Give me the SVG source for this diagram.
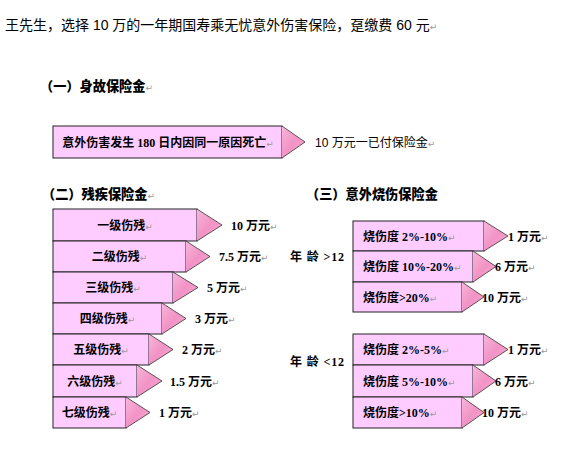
<svg xmlns="http://www.w3.org/2000/svg" width="564" height="453" viewBox="0 0 564 453">
<defs>
<linearGradient id="tg" x1="0" y1="0" x2="1" y2="1">
<stop offset="0" stop-color="#F8B6DA"/>
<stop offset="0.5" stop-color="#F293C5"/>
<stop offset="1" stop-color="#F6A9D1"/>
</linearGradient>
</defs>
<style>
.bx{fill:#FFCCFF;stroke:#222;stroke-width:1}
.tr{fill:url(#tg);stroke:none}
.te{fill:none;stroke:#333;stroke-width:0.8}
.reg{font-family:"Liberation Sans","Noto Sans CJK SC",sans-serif;fill:#000}
.hd{font-family:"Liberation Sans","Noto Sans CJK SC",sans-serif;font-weight:900;font-size:13.2px;fill:#000}
.lb{font-family:"Liberation Serif","Noto Sans CJK SC",serif;font-weight:bold;font-size:12px;fill:#000}
.pm{fill:#999;font-weight:normal;font-size:9px;font-family:"DejaVu Sans",sans-serif}
</style>
<rect width="564" height="453" fill="#fff"/>
<text class="reg" x="5" y="30" font-size="14">王先生，选择 10 万的一年期国寿乘无忧意外伤害保险，趸缴费 60 元<tspan class="pm">↵</tspan></text>
<text class="hd" x="40" y="91">（一）身故保险金<tspan class="pm">↵</tspan></text>
<text class="hd" x="42" y="199">（二）残疾保险金<tspan class="pm">↵</tspan></text>
<text class="hd" x="306" y="199">（三）意外烧伤保险金</text>

<g id="death">
<rect class="bx" x="53" y="126" width="229" height="32"/>
<polygon class="tr" points="282,126 305,142 282,158"/>
<polyline class="te" points="282,126 305,142 282,158"/>
<text class="lb" x="168" y="146.5" text-anchor="middle">意外伤害发生 180 日内因同一原因死亡<tspan class="pm">↵</tspan></text>
<text class="reg" x="315" y="146.5" font-size="12">10 万元一已付保险金<tspan class="pm">↵</tspan></text>
</g>

<g id="d1">
<rect class="bx" x="53" y="209" width="144" height="32"/>
<polygon class="tr" points="197,209 222,225 197,241"/><polyline class="te" points="197,209 222,225 197,241"/>
<text class="lb" x="125" y="229.5" text-anchor="middle">一级伤残<tspan class="pm">↵</tspan></text>
<text class="lb" x="231" y="229.5">10 万元<tspan class="pm">↵</tspan></text>
</g>
<g id="d2">
<rect class="bx" x="53" y="241" width="133" height="31"/>
<polygon class="tr" points="186,241 210,256.5 186,272"/><polyline class="te" points="186,241 210,256.5 186,272"/>
<text class="lb" x="119.5" y="261" text-anchor="middle">二级伤残<tspan class="pm">↵</tspan></text>
<text class="lb" x="219" y="261">7.5 万元<tspan class="pm">↵</tspan></text>
</g>
<g id="d3">
<rect class="bx" x="53" y="272" width="120" height="31"/>
<polygon class="tr" points="173,272 198,287.5 173,303"/><polyline class="te" points="173,272 198,287.5 173,303"/>
<text class="lb" x="113" y="292" text-anchor="middle">三级伤残<tspan class="pm">↵</tspan></text>
<text class="lb" x="207" y="292">5 万元<tspan class="pm">↵</tspan></text>
</g>
<g id="d4">
<rect class="bx" x="53" y="303" width="109" height="31"/>
<polygon class="tr" points="162,303 186,318.5 162,334"/><polyline class="te" points="162,303 186,318.5 162,334"/>
<text class="lb" x="107.5" y="323" text-anchor="middle">四级伤残<tspan class="pm">↵</tspan></text>
<text class="lb" x="195" y="323">3 万元<tspan class="pm">↵</tspan></text>
</g>
<g id="d5">
<rect class="bx" x="53" y="334" width="96" height="31"/>
<polygon class="tr" points="149,334 173,349.5 149,365"/><polyline class="te" points="149,334 173,349.5 149,365"/>
<text class="lb" x="101" y="354" text-anchor="middle">五级伤残<tspan class="pm">↵</tspan></text>
<text class="lb" x="182" y="354">2 万元<tspan class="pm">↵</tspan></text>
</g>
<g id="d6">
<rect class="bx" x="53" y="365" width="84" height="32"/>
<polygon class="tr" points="137,365 162,381 137,397"/><polyline class="te" points="137,365 162,381 137,397"/>
<text class="lb" x="95" y="385.5" text-anchor="middle">六级伤残<tspan class="pm">↵</tspan></text>
<text class="lb" x="170" y="385.5">1.5 万元<tspan class="pm">↵</tspan></text>
</g>
<g id="d7">
<rect class="bx" x="53" y="397" width="73" height="31"/>
<polygon class="tr" points="126,397 150,412.5 126,428"/><polyline class="te" points="126,397 150,412.5 126,428"/>
<text class="lb" x="89.5" y="417" text-anchor="middle">七级伤残<tspan class="pm">↵</tspan></text>
<text class="lb" x="159" y="417">1 万元<tspan class="pm">↵</tspan></text>
</g>

<text class="lb" x="290" y="261" textLength="54">年 龄 &gt;12</text>
<g id="b1">
<rect class="bx" x="353" y="221" width="131" height="30"/>
<polygon class="tr" points="484,221 508,236 484,251"/><polyline class="te" points="484,221 508,236 484,251"/>
<text class="lb" x="363" y="240.5">烧伤度 2%-10%<tspan class="pm">↵</tspan></text>
<text class="lb" x="508" y="240.5">1 万元<tspan class="pm">↵</tspan></text>
</g>
<g id="b2">
<rect class="bx" x="353" y="251" width="120" height="31"/>
<polygon class="tr" points="473,251 496,266.5 473,282"/><polyline class="te" points="473,251 496,266.5 473,282"/>
<text class="lb" x="363" y="271">烧伤度 10%-20%<tspan class="pm">↵</tspan></text>
<text class="lb" x="495" y="271">6 万元<tspan class="pm">↵</tspan></text>
</g>
<g id="b3">
<rect class="bx" x="353" y="282" width="109" height="30"/>
<polygon class="tr" points="462,282 484,297 462,312"/><polyline class="te" points="462,282 484,297 462,312"/>
<text class="lb" x="363" y="301.5">烧伤度&gt;20%<tspan class="pm">↵</tspan></text>
<text class="lb" x="482" y="301.5">10 万元<tspan class="pm">↵</tspan></text>
</g>

<text class="lb" x="290" y="366" textLength="54">年 龄 &lt;12</text>
<g id="c1">
<rect class="bx" x="353" y="334" width="131" height="31"/>
<polygon class="tr" points="484,334 508,349.5 484,365"/><polyline class="te" points="484,334 508,349.5 484,365"/>
<text class="lb" x="363" y="354">烧伤度 2%-5%<tspan class="pm">↵</tspan></text>
<text class="lb" x="508" y="354">1 万元<tspan class="pm">↵</tspan></text>
</g>
<g id="c2">
<rect class="bx" x="353" y="365" width="120" height="32"/>
<polygon class="tr" points="473,365 496,381 473,397"/><polyline class="te" points="473,365 496,381 473,397"/>
<text class="lb" x="363" y="385.5">烧伤度 5%-10%<tspan class="pm">↵</tspan></text>
<text class="lb" x="495" y="385.5">6 万元<tspan class="pm">↵</tspan></text>
</g>
<g id="c3">
<rect class="bx" x="353" y="397" width="109" height="31"/>
<polygon class="tr" points="462,397 484,412.5 462,428"/><polyline class="te" points="462,397 484,412.5 462,428"/>
<text class="lb" x="363" y="417">烧伤度&gt;10%<tspan class="pm">↵</tspan></text>
<text class="lb" x="482" y="417">10 万元<tspan class="pm">↵</tspan></text>
</g>
</svg>
